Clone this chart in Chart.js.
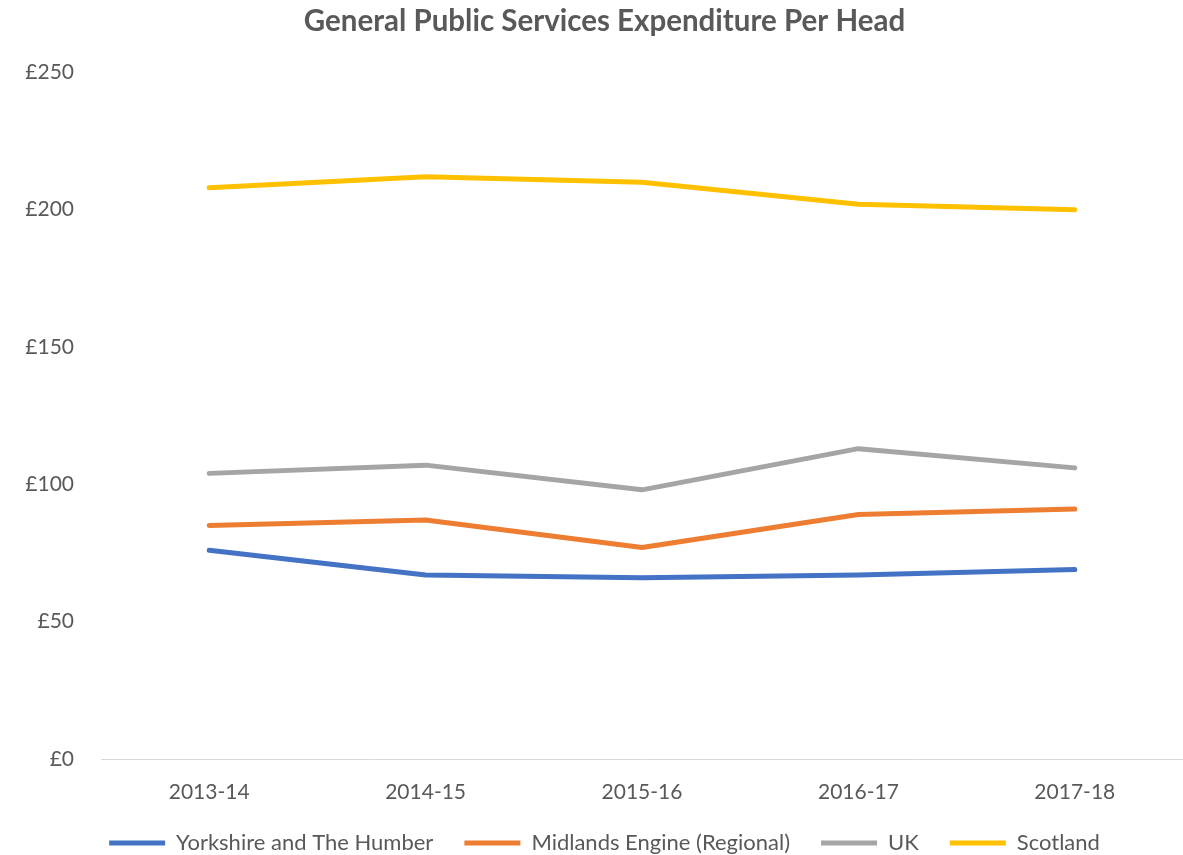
<!DOCTYPE html>
<html>
<head>
<meta charset="utf-8">
<script src="https://cdn.jsdelivr.net/npm/chart.js@4/dist/chart.umd.min.js"></script>
<style>
  html, body { margin: 0; padding: 0; background: #fff; }
  #wrap { width: 1183px; height: 855px; position: relative; }
</style>
</head>
<body>
<div id="wrap"><canvas id="chart"></canvas></div>
<script>
// data
const years = ['2013-14', '2014-15', '2015-16', '2016-17', '2017-18'];
const yorkshire = [76, 67, 66, 67, 69];
const midlands = [85, 87, 77, 89, 91];
const uk = [104, 107, 98, 113, 106];
const scotland = [208, 212, 210, 202, 200];
const yTicks = [0, 50, 100, 150, 200, 250];

const grey = '#595959';
const fontFamily = 'Lato, "Open Sans", sans-serif';

const mkLine = (label, data, color) => ({
    label: label,
    data: data,
    borderColor: color,
    backgroundColor: color,
    borderWidth: 5,
    borderCapStyle: 'round',
    borderJoinStyle: 'round',
    pointRadius: 0,
    pointHoverRadius: 0,
    tension: 0,
    fill: false
});

new Chart(document.getElementById('chart'), {
    type: 'line',
    data: {
        labels: years,
        datasets: [
            mkLine('Yorkshire and The Humber', yorkshire, '#4472C4'),
            mkLine('Midlands Engine (Regional)', midlands, '#ED7D31'),
            mkLine('UK', uk, '#A5A5A5'),
            mkLine('Scotland', scotland, '#FFC000')
        ]
    },
    options: {
        responsive: true,
        maintainAspectRatio: false,
        animation: false,
        // plot runs a bit past the right edge, title/legend sit right of centre
        layout: { padding: { top: 4, left: 22, right: -4, bottom: -9 } },
        plugins: {
            title: {
                display: true,
                text: 'General Public Services Expenditure Per Head',
                color: grey,
                font: { family: fontFamily, size: 29.5, weight: 'bold' },
                padding: { top: 0, bottom: 33 }
            },
            legend: {
                position: 'bottom',
                labels: {
                    usePointStyle: true,
                    pointStyle: 'line',
                    pointStyleWidth: 56,
                    color: grey,
                    font: { family: fontFamily, size: 22 },
                    padding: 31
                }
            },
            tooltip: { enabled: false }
        },
        scales: {
            x: {
                offset: true,
                grid: { display: false, drawTicks: false },
                border: { display: true, color: '#D9D9D9', width: 1 },
                ticks: { color: grey, font: { family: fontFamily, size: 21 }, padding: 21 },
                afterFit: (axis) => { axis.height = 42; }
            },
            y: {
                min: 0,
                max: 250,
                afterBuildTicks: (axis) => { axis.ticks = yTicks.map(v => ({ value: v })); },
                afterFit: (axis) => { axis.width = 79; },
                grid: { display: false, drawTicks: false },
                border: { display: false },
                ticks: {
                    color: grey,
                    font: { family: fontFamily, size: 21 },
                    padding: 27,
                    callback: (v) => '£' + v
                }
            }
        }
    }
});
</script>
</body>
</html>
